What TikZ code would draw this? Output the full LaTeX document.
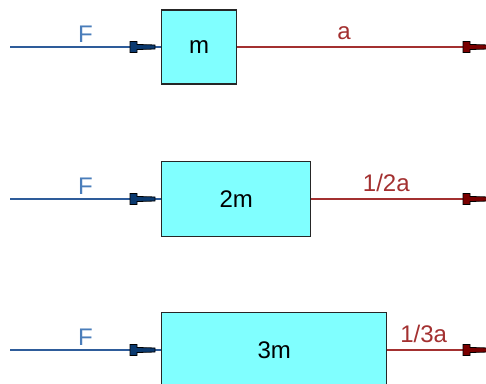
\documentclass[tikz,border=0pt]{standalone}
\usepackage{fontspec}
\setmainfont{Liberation Sans}
\usepackage{xcolor}
\usepackage{tikz}
\usetikzlibrary{positioning, decorations.markings}

\definecolor{massfill}{HTML}{80FFFF}
\definecolor{forceblue}{HTML}{2E5C9A}
\definecolor{forcetext}{HTML}{4A7DBA}
\definecolor{forcetip}{HTML}{0B3A70}
\definecolor{accred}{HTML}{A33030}
\definecolor{acctip}{HTML}{7A0000}

\begin{document}
\begin{tikzpicture}[x=0.75pt, y=-0.75pt,
    font=\fontsize{18}{20}\selectfont,
    massbox/.style={draw=black!85, line width=1.1pt, fill=massfill, inner sep=0pt, anchor=west},
    tiptail/.style={postaction={decorate}, decoration={markings,
        mark=at position -4.5pt with {\filldraw[draw=black, line width=0.6pt, fill=#1]
            (-18.75pt,-4.1pt) -- (-18.75pt,4.1pt) -- (-13.5pt,4.1pt) -- (-13.5pt,1.9pt)
            -- (0pt,1.5pt) -- (0pt,-1.5pt) -- (-13.5pt,-1.9pt) -- (-13.5pt,-4.1pt) -- cycle;}}},
    forceline/.style={draw=forceblue, line width=1.2pt, tiptail=forcetip},
    accline/.style={draw=accred, line width=1.2pt, tiptail=acctip},
    forcelabel/.style={text=forcetext, above=2.5pt, inner sep=0pt},
    acclabel/.style={text=accred, above=5pt, inner sep=0pt}]
    \useasboundingbox (0,0) rectangle (486,384);
    \clip (0,0) rectangle (486,384);

    % One mass
    \coordinate (in1) at (10,47);
    \node (m1) [massbox, minimum width=56.25pt, minimum height=55.5pt] at (161,47) {m};
    \coordinate (out1) at (494,47);
    \draw[forceline] (in1) -- node[forcelabel] {F} (m1);
    \draw[accline] (m1) -- node[acclabel, pos=0.415] {a} (out1);

    % Two masses
    \coordinate (in2) at (10,199);
    \node (m2) [massbox, minimum width=111.75pt, minimum height=56.25pt] at (161,199) {2m};
    \coordinate (out2) at (494,199);
    \draw[forceline] (in2) -- node[forcelabel] {F} (m2);
    \draw[accline] (m2) -- node[acclabel, pos=0.41] {1/2a} (out2);

    % Three masses
    \coordinate (in3) at (10,350);
    \node (m3) [massbox, minimum width=168.75pt, minimum height=56.25pt] at (161,350) {3m};
    \coordinate (out3) at (494,350);
    \draw[forceline] (in3) -- node[forcelabel] {F} (m3);
    \draw[accline] (m3) -- node[acclabel, pos=0.34] {1/3a} (out3);
\end{tikzpicture}
\end{document}
